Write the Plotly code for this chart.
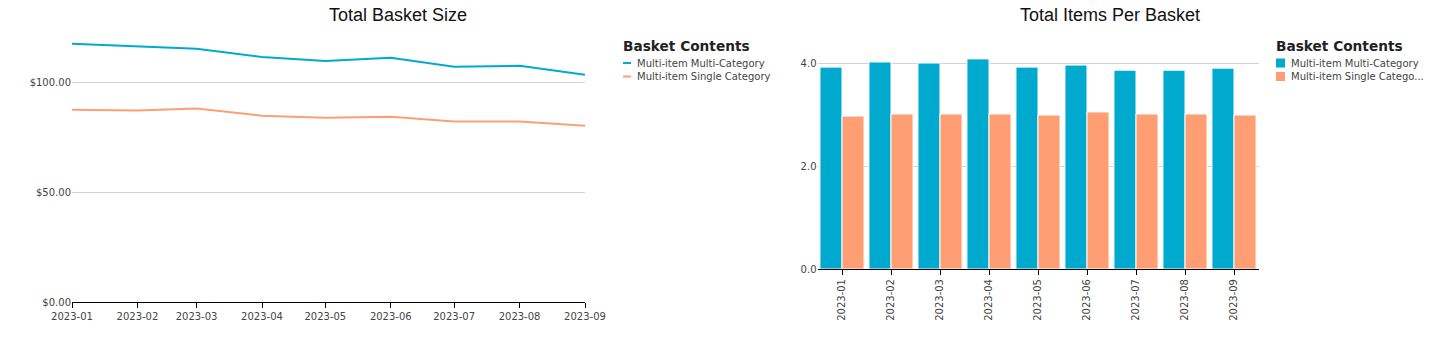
import plotly.graph_objects as go

# Monthly categories shared by both panels
months = ["2023-01", "2023-02", "2023-03", "2023-04", "2023-05",
          "2023-06", "2023-07", "2023-08", "2023-09"]

# Total basket size (USD)
basket_multi_cat = [117.4, 116.1, 115.1, 111.4, 109.5, 111.0, 106.9, 107.4, 103.3]
basket_single_cat = [87.4, 87.0, 87.9, 84.7, 83.8, 84.2, 82.0, 82.0, 80.1]

# Items per basket
items_multi_cat = [3.92, 4.02, 4.00, 4.08, 3.92, 3.96, 3.86, 3.86, 3.90]
items_single_cat = [2.97, 3.01, 3.01, 3.01, 2.99, 3.05, 3.01, 3.01, 2.99]

# Axis ticks
size_ticks = [0, 50, 100]
size_tick_labels = ["$0.00", "$50.00", "$100.00"]
items_ticks = [0, 2, 4]

series_names = ["Multi-item Multi-Category", "Multi-item Single Category"]
bar_names = ["Multi-item Multi-Category", "Multi-item Single Catego..."]
legend_title = "Basket Contents"
titles = ["Total Basket Size", "Total Items Per Basket"]

BLUE = "#00AACF"
ORANGE = "#FF9E73"
W, H = 1434, 337
TICK_FONT = dict(family="DejaVu Sans", size=10, color="#444")
LEG_FONT = dict(family="DejaVu Sans", size=10, color="#444")


def fx(px):
    return px / W


def fy(py):
    return (H - py) / H


fig = go.Figure()

fig.add_trace(go.Scatter(x=months, y=basket_multi_cat, name=series_names[0],
                         mode="lines", line=dict(color=BLUE, width=2),
                         xaxis="x", yaxis="y", showlegend=False))
fig.add_trace(go.Scatter(x=months, y=basket_single_cat, name=series_names[1],
                         mode="lines", line=dict(color=ORANGE, width=2),
                         xaxis="x", yaxis="y", showlegend=False))

fig.add_trace(go.Bar(x=months, y=items_multi_cat, name=bar_names[0],
                     marker=dict(color=BLUE, line=dict(color="white", width=1)),
                     xaxis="x2", yaxis="y2", showlegend=False))
fig.add_trace(go.Bar(x=months, y=items_single_cat, name=bar_names[1],
                     marker=dict(color=ORANGE, line=dict(color="white", width=1)),
                     xaxis="x2", yaxis="y2", showlegend=False))

# Compact legends built from shapes and text
annotations = []
shapes = []


def legend_block(x0, names, colors, kind):
    annotations.append(dict(
        text="<b>" + legend_title + "</b>", x=fx(x0 - 2), y=fy(46), xref="paper", yref="paper",
        showarrow=False, xanchor="left", yanchor="middle",
        font=dict(family="DejaVu Sans", size=13.7, color="#222")))
    for i, (name, color) in enumerate(zip(names, colors)):
        yc = 63 + i * 13.5
        if kind == "line":
            shapes.append(dict(type="line", xref="paper", yref="paper",
                               x0=fx(x0), x1=fx(x0 + 8), y0=fy(yc), y1=fy(yc),
                               line=dict(color=color, width=2)))
            tx = x0 + 12
        else:
            shapes.append(dict(type="rect", xref="paper", yref="paper",
                               x0=fx(x0), x1=fx(x0 + 9), y0=fy(yc - 4.5), y1=fy(yc + 4.5),
                               fillcolor=color, line=dict(width=0)))
            tx = x0 + 13
        annotations.append(dict(
            text=name, x=fx(tx), y=fy(yc), xref="paper", yref="paper",
            showarrow=False, xanchor="left", yanchor="middle", font=LEG_FONT))


legend_block(623, series_names, [BLUE, ORANGE], "line")
legend_block(1276, bar_names, [BLUE, ORANGE], "rect")

for text, xc in zip(titles, [398, 1110]):
    annotations.append(dict(
        text=text, x=fx(xc), y=fy(15), xref="paper", yref="paper",
        showarrow=False, xanchor="center", yanchor="middle",
        font=dict(family="Liberation Sans", size=18, color="#111")))

fig.update_layout(
    width=W, height=H,
    margin=dict(l=0, r=0, t=0, b=0, autoexpand=False),
    paper_bgcolor="white", plot_bgcolor="white",
    showlegend=False,
    barmode="group", bargap=0.1, bargroupgap=0.0,
    xaxis=dict(domain=[fx(72), fx(585)], type="date",
               range=[months[0] + "-01", months[-1] + "-01"],
               dtick="M1", tick0=months[0] + "-01", tickformat="%Y-%m",
               showgrid=False, showline=True, linecolor="black", linewidth=1,
               ticks="outside", ticklen=5, tickcolor="black", tickfont=TICK_FONT,
               anchor="y", automargin=False),
    yaxis=dict(domain=[fy(302), fy(30)], range=[0, (302 - 30) / 2.2],
               tickvals=size_ticks, ticktext=size_tick_labels,
               showgrid=True, gridcolor="#d3d3d3", zeroline=False, showline=False,
               tickfont=TICK_FONT, anchor="x", automargin=False),
    xaxis2=dict(domain=[fx(817.5), fx(1258.5)], type="category", range=[-0.5, 8.5],
                showgrid=False, showline=True, linecolor="black", linewidth=1,
                ticks="outside", ticklen=5, tickcolor="black", tickangle=-90,
                tickfont=TICK_FONT, anchor="y2", automargin=False),
    yaxis2=dict(domain=[fy(269), fy(30)], range=[0, (269 - 30) / 51.5],
                tickvals=items_ticks, tickformat=".1f",
                showgrid=True, gridcolor="#d3d3d3", zeroline=False, showline=False,
                tickfont=TICK_FONT, anchor="x2", automargin=False),
    annotations=annotations,
    shapes=shapes,
)

fig.write_html("out.html")
